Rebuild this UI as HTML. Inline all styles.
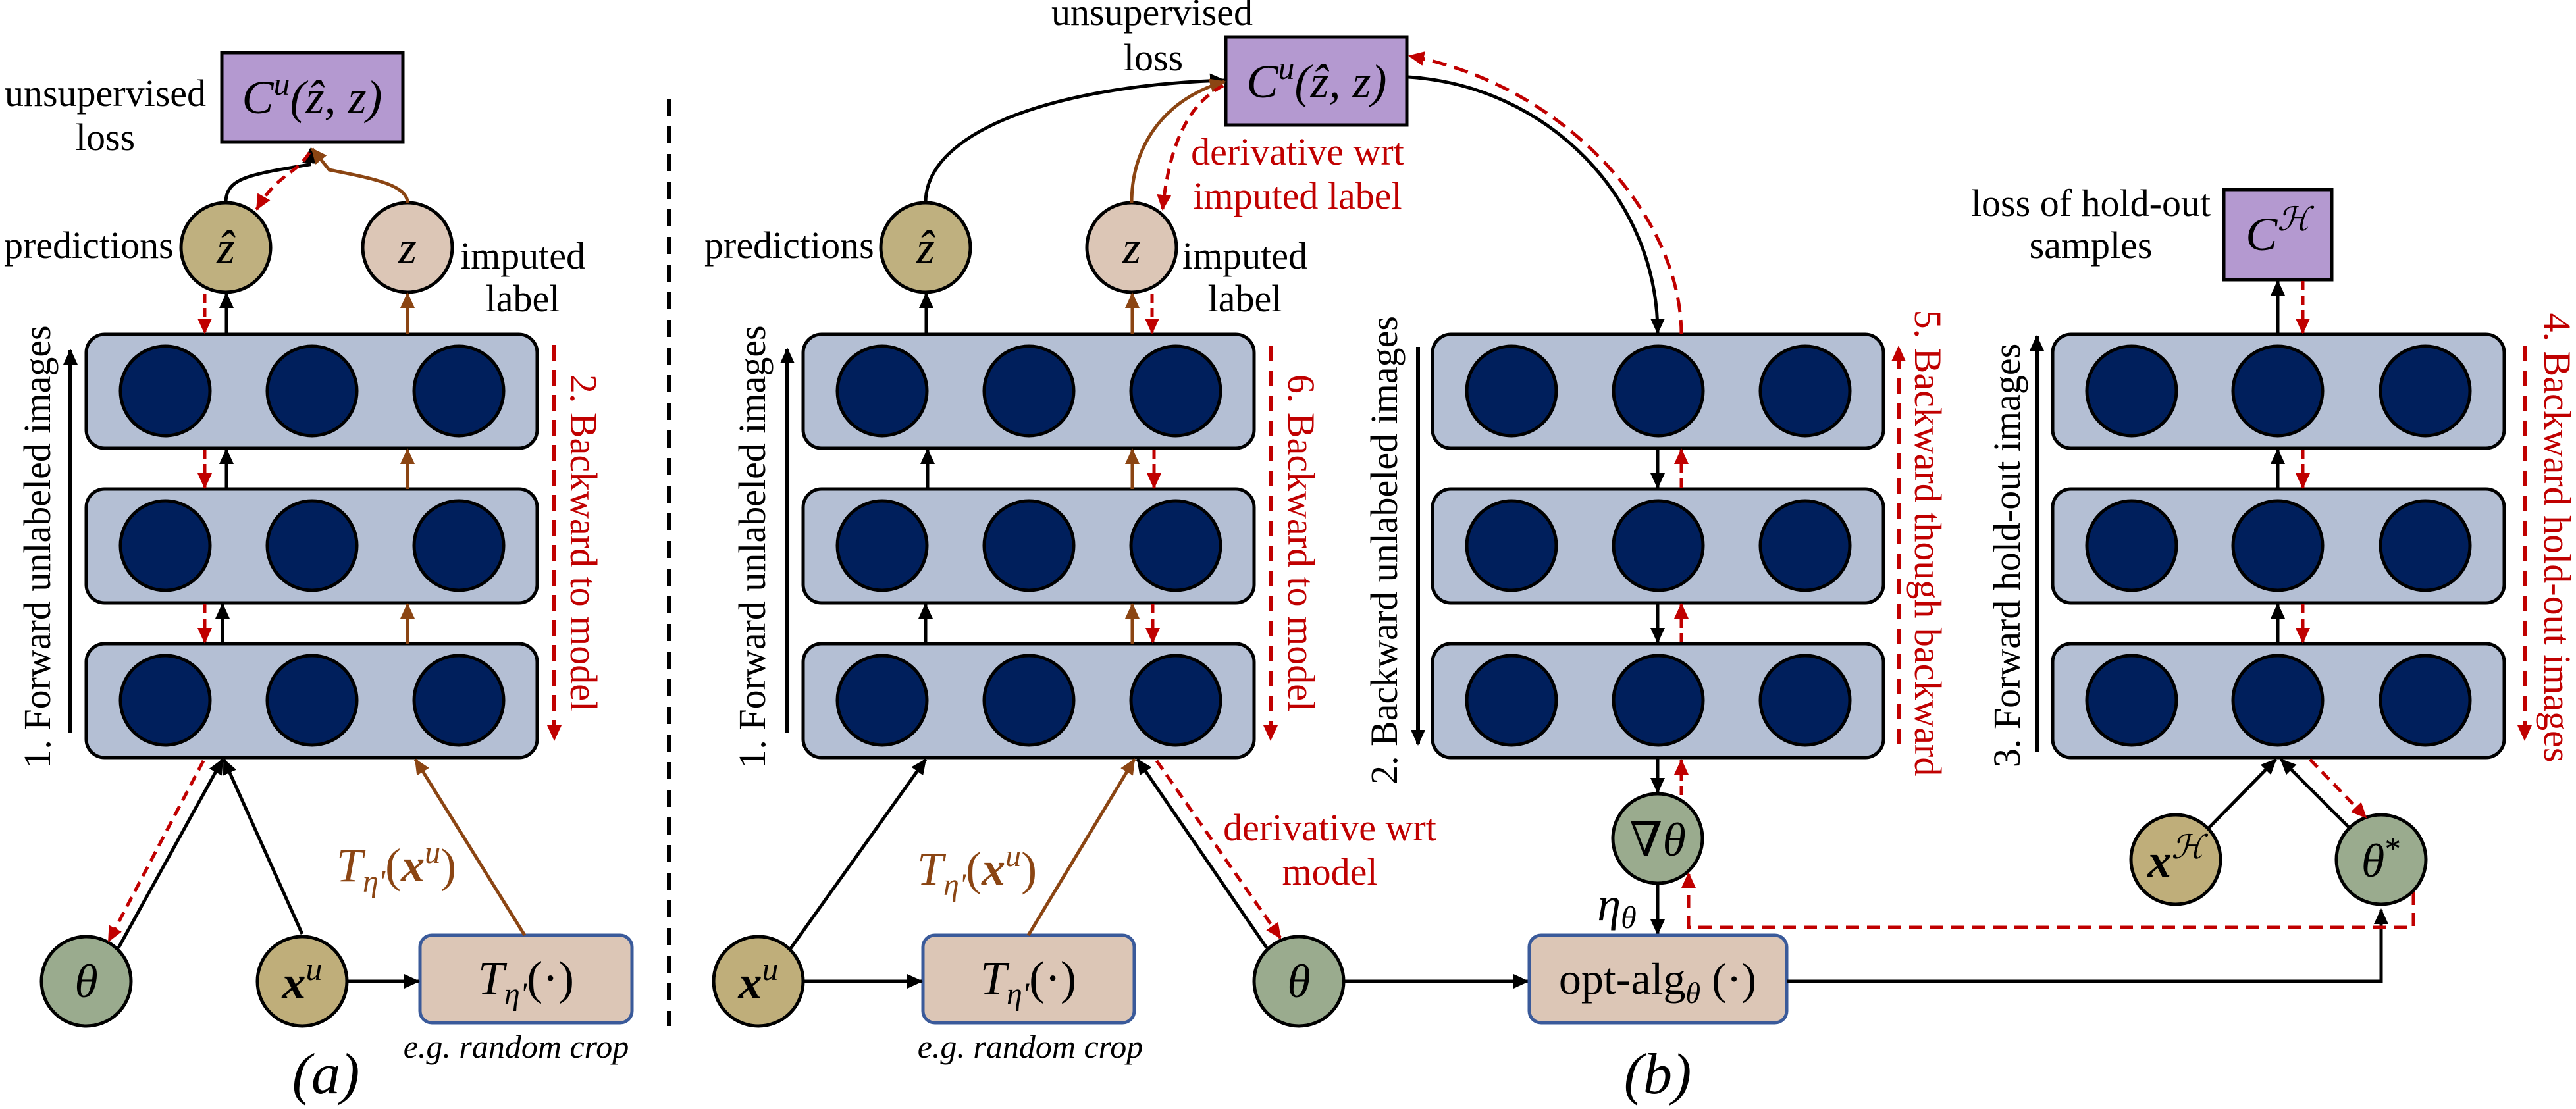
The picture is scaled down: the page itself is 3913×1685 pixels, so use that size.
<!DOCTYPE html>
<html><head><meta charset="utf-8"><style>
html,body{margin:0;padding:0;background:#fff}
svg{display:block;font-family:"Liberation Serif","DejaVu Serif",serif}
svg text{font-family:"Liberation Serif","DejaVu Serif",serif}
</style></head><body>
<svg width="3913" height="1685" viewBox="0 0 3913 1685" xmlns="http://www.w3.org/2000/svg" font-family="'Liberation Serif', 'DejaVu Serif', serif">
<defs>
<marker id="ak" markerWidth="24" markerHeight="22" refX="22" refY="11" orient="auto" markerUnits="userSpaceOnUse"><path d="M0,0 L24,11 L0,22 z" fill="#000"/></marker>
<marker id="abr" markerWidth="24" markerHeight="22" refX="22" refY="11" orient="auto" markerUnits="userSpaceOnUse"><path d="M0,0 L24,11 L0,22 z" fill="#8b4513"/></marker>
<marker id="ar" markerWidth="24" markerHeight="22" refX="22" refY="11" orient="auto" markerUnits="userSpaceOnUse"><path d="M0,0 L24,11 L0,22 z" fill="#c00000"/></marker>
<g id="layer">
 <rect x="0" y="0" width="685" height="173" rx="28" fill="#b4bfd4" stroke="#000" stroke-width="5"/>
 <circle cx="120" cy="86" r="68" fill="#001f5c" stroke="#000" stroke-width="5"/>
 <circle cx="343" cy="86" r="68" fill="#001f5c" stroke="#000" stroke-width="5"/>
 <circle cx="566" cy="86" r="68" fill="#001f5c" stroke="#000" stroke-width="5"/>
</g>
</defs>

<g stroke-linecap="butt" fill="none">
<!-- ===== Panel (a) ===== -->
<use href="#layer" x="131" y="508"/>
<use href="#layer" x="131" y="743"/>
<use href="#layer" x="131" y="978"/>
<rect x="337" y="80" width="275" height="136" fill="#b499d0" stroke="#000" stroke-width="5"/>
<circle cx="343" cy="376" r="68" fill="#bfb07f" stroke="#000" stroke-width="5"/>
<circle cx="619" cy="376" r="68" fill="#dcc6b6" stroke="#000" stroke-width="5"/>
<path d="M343,308 C343,270 380,265 470,250 L472,226" stroke="#000" stroke-width="5" marker-end="url(#ak)"/>
<path d="M619,308 C619,280 560,270 500,258 L474,226" stroke="#8b4513" stroke-width="5" marker-end="url(#abr)"/>
<path d="M470,232 C450,265 420,265 390,318" stroke="#c00000" stroke-width="5" stroke-dasharray="16 10" marker-end="url(#ar)"/>
<line x1="344" y1="508" x2="344" y2="446" stroke="#000" stroke-width="5" marker-end="url(#ak)"/>
<line x1="311" y1="446" x2="311" y2="506" stroke="#c00000" stroke-width="5" stroke-dasharray="14 8" marker-end="url(#ar)"/>
<line x1="619" y1="508" x2="619" y2="446" stroke="#8b4513" stroke-width="5" marker-end="url(#abr)"/>
<line x1="344" y1="743" x2="344" y2="683" stroke="#000" stroke-width="5" marker-end="url(#ak)"/>
<line x1="311" y1="683" x2="311" y2="741" stroke="#c00000" stroke-width="5" stroke-dasharray="14 8" marker-end="url(#ar)"/>
<line x1="619" y1="743" x2="619" y2="683" stroke="#8b4513" stroke-width="5" marker-end="url(#abr)"/>
<line x1="338" y1="978" x2="338" y2="918" stroke="#000" stroke-width="5" marker-end="url(#ak)"/>
<line x1="311" y1="918" x2="311" y2="976" stroke="#c00000" stroke-width="5" stroke-dasharray="14 8" marker-end="url(#ar)"/>
<line x1="619" y1="978" x2="619" y2="918" stroke="#8b4513" stroke-width="5" marker-end="url(#abr)"/>
<line x1="107" y1="1113" x2="107" y2="532" stroke="#000" stroke-width="6" marker-end="url(#ak)"/>
<line x1="842" y1="524" x2="842" y2="1124" stroke="#c00000" stroke-width="6" stroke-dasharray="24 14" marker-end="url(#ar)"/>
<circle cx="131" cy="1491" r="68" fill="#9aab8e" stroke="#000" stroke-width="5"/>
<circle cx="459" cy="1491" r="68" fill="#bfae7a" stroke="#000" stroke-width="5"/>
<rect x="638" y="1421" width="322" height="133" rx="18" fill="#dcc6b6" stroke="#3a5a9a" stroke-width="5"/>
<line x1="180" y1="1440" x2="338" y2="1154" stroke="#000" stroke-width="5" marker-end="url(#ak)"/>
<line x1="459" y1="1419" x2="340" y2="1154" stroke="#000" stroke-width="5" marker-end="url(#ak)"/>
<line x1="309" y1="1156" x2="165" y2="1430" stroke="#c00000" stroke-width="5" stroke-dasharray="16 10" marker-end="url(#ar)"/>
<line x1="797" y1="1421" x2="631" y2="1154" stroke="#8b4513" stroke-width="5" marker-end="url(#abr)"/>
<line x1="527" y1="1491" x2="636" y2="1491" stroke="#000" stroke-width="5" marker-end="url(#ak)"/>

<line x1="1016" y1="150" x2="1016" y2="1559" stroke="#000" stroke-width="6" stroke-dasharray="26 16"/>

<!-- ===== Panel (b) left ===== -->
<use href="#layer" x="1220" y="508"/>
<use href="#layer" x="1220" y="743"/>
<use href="#layer" x="1220" y="978"/>
<rect x="1862" y="56" width="275" height="134" fill="#b499d0" stroke="#000" stroke-width="5"/>
<circle cx="1406" cy="376" r="68" fill="#bfb07f" stroke="#000" stroke-width="5"/>
<circle cx="1719" cy="376" r="68" fill="#dcc6b6" stroke="#000" stroke-width="5"/>
<path d="M1406,308 C1406,200 1600,130 1860,122" stroke="#000" stroke-width="5" marker-end="url(#ak)"/>
<path d="M1719,308 C1719,220 1770,150 1860,124" stroke="#8b4513" stroke-width="5" marker-end="url(#abr)"/>
<path d="M1858,130 C1800,160 1775,230 1766,318" stroke="#c00000" stroke-width="5" stroke-dasharray="16 10" marker-end="url(#ar)"/>
<line x1="1407" y1="508" x2="1407" y2="446" stroke="#000" stroke-width="5" marker-end="url(#ak)"/>
<line x1="1720" y1="508" x2="1720" y2="446" stroke="#8b4513" stroke-width="5" marker-end="url(#abr)"/>
<line x1="1750" y1="446" x2="1750" y2="506" stroke="#c00000" stroke-width="5" stroke-dasharray="14 8" marker-end="url(#ar)"/>
<line x1="1409" y1="743" x2="1409" y2="683" stroke="#000" stroke-width="5" marker-end="url(#ak)"/>
<line x1="1720" y1="743" x2="1720" y2="683" stroke="#8b4513" stroke-width="5" marker-end="url(#abr)"/>
<line x1="1753" y1="683" x2="1753" y2="741" stroke="#c00000" stroke-width="5" stroke-dasharray="14 8" marker-end="url(#ar)"/>
<line x1="1406" y1="978" x2="1406" y2="918" stroke="#000" stroke-width="5" marker-end="url(#ak)"/>
<line x1="1720" y1="978" x2="1720" y2="918" stroke="#8b4513" stroke-width="5" marker-end="url(#abr)"/>
<line x1="1751" y1="918" x2="1751" y2="976" stroke="#c00000" stroke-width="5" stroke-dasharray="14 8" marker-end="url(#ar)"/>
<line x1="1196" y1="1113" x2="1196" y2="530" stroke="#000" stroke-width="6" marker-end="url(#ak)"/>
<line x1="1930" y1="525" x2="1930" y2="1124" stroke="#c00000" stroke-width="6" stroke-dasharray="24 14" marker-end="url(#ar)"/>
<circle cx="1152" cy="1491" r="68" fill="#bfae7a" stroke="#000" stroke-width="5"/>
<rect x="1402" y="1421" width="321" height="133" rx="18" fill="#dcc6b6" stroke="#3a5a9a" stroke-width="5"/>
<circle cx="1973" cy="1491" r="68" fill="#9aab8e" stroke="#000" stroke-width="5"/>
<line x1="1220" y1="1491" x2="1400" y2="1491" stroke="#000" stroke-width="5" marker-end="url(#ak)"/>
<line x1="1201" y1="1441" x2="1406" y2="1154" stroke="#000" stroke-width="5" marker-end="url(#ak)"/>
<line x1="1562" y1="1421" x2="1723" y2="1154" stroke="#8b4513" stroke-width="5" marker-end="url(#abr)"/>
<line x1="1924" y1="1440" x2="1728" y2="1154" stroke="#000" stroke-width="5" marker-end="url(#ak)"/>
<line x1="1757" y1="1156" x2="1945" y2="1425" stroke="#c00000" stroke-width="5" stroke-dasharray="16 10" marker-end="url(#ar)"/>
<line x1="2041" y1="1491" x2="2321" y2="1491" stroke="#000" stroke-width="5" marker-end="url(#ak)"/>

<!-- ===== Panel (b) middle ===== -->
<use href="#layer" x="2176" y="508"/>
<use href="#layer" x="2176" y="743"/>
<use href="#layer" x="2176" y="978"/>
<path d="M2139,117 C2350,130 2518,300 2518,506" stroke="#000" stroke-width="5" marker-end="url(#ak)"/>
<path d="M2554,508 C2554,330 2380,130 2141,85" stroke="#c00000" stroke-width="5" stroke-dasharray="22 12" marker-end="url(#ar)"/>
<line x1="2518" y1="681" x2="2518" y2="741" stroke="#000" stroke-width="5" marker-end="url(#ak)"/>
<line x1="2554" y1="741" x2="2554" y2="683" stroke="#c00000" stroke-width="5" stroke-dasharray="14 8" marker-end="url(#ar)"/>
<line x1="2518" y1="916" x2="2518" y2="976" stroke="#000" stroke-width="5" marker-end="url(#ak)"/>
<line x1="2554" y1="976" x2="2554" y2="918" stroke="#c00000" stroke-width="5" stroke-dasharray="14 8" marker-end="url(#ar)"/>
<line x1="2518" y1="1151" x2="2518" y2="1204" stroke="#000" stroke-width="5" marker-end="url(#ak)"/>
<line x1="2554" y1="1208" x2="2554" y2="1155" stroke="#c00000" stroke-width="5" stroke-dasharray="14 8" marker-end="url(#ar)"/>
<line x1="2154" y1="527" x2="2154" y2="1131" stroke="#000" stroke-width="6" marker-end="url(#ak)"/>
<line x1="2884" y1="1131" x2="2884" y2="527" stroke="#c00000" stroke-width="6" stroke-dasharray="24 14" marker-end="url(#ar)"/>
<circle cx="2518" cy="1274" r="68" fill="#9aab8e" stroke="#000" stroke-width="5"/>
<line x1="2518" y1="1342" x2="2518" y2="1419" stroke="#000" stroke-width="5" marker-end="url(#ak)"/>
<rect x="2323" y="1421" width="391" height="133" rx="18" fill="#dcc6b6" stroke="#3a5a9a" stroke-width="5"/>
<polyline points="2714,1491 3617,1491 3617,1382" stroke="#000" stroke-width="5" marker-end="url(#ak)"/>
<polyline points="3666,1355 3666,1409 2565,1409 2565,1327" stroke="#c00000" stroke-width="5" stroke-dasharray="20 12" marker-end="url(#ar)"/>

<!-- ===== Panel (b) right ===== -->
<g transform="translate(3118,508)"><rect x="0" y="0" width="686" height="173" rx="28" fill="#b4bfd4" stroke="#000" stroke-width="5"/><circle cx="120" cy="86" r="68" fill="#001f5c" stroke="#000" stroke-width="5"/><circle cx="342" cy="86" r="68" fill="#001f5c" stroke="#000" stroke-width="5"/><circle cx="566" cy="86" r="68" fill="#001f5c" stroke="#000" stroke-width="5"/></g>
<g transform="translate(3118,743)"><rect x="0" y="0" width="686" height="173" rx="28" fill="#b4bfd4" stroke="#000" stroke-width="5"/><circle cx="120" cy="86" r="68" fill="#001f5c" stroke="#000" stroke-width="5"/><circle cx="342" cy="86" r="68" fill="#001f5c" stroke="#000" stroke-width="5"/><circle cx="566" cy="86" r="68" fill="#001f5c" stroke="#000" stroke-width="5"/></g>
<g transform="translate(3118,978)"><rect x="0" y="0" width="686" height="173" rx="28" fill="#b4bfd4" stroke="#000" stroke-width="5"/><circle cx="120" cy="86" r="68" fill="#001f5c" stroke="#000" stroke-width="5"/><circle cx="342" cy="86" r="68" fill="#001f5c" stroke="#000" stroke-width="5"/><circle cx="566" cy="86" r="68" fill="#001f5c" stroke="#000" stroke-width="5"/></g>
<rect x="3378" y="288" width="164" height="137" fill="#b499d0" stroke="#000" stroke-width="5"/>
<line x1="3460" y1="508" x2="3460" y2="427" stroke="#000" stroke-width="5" marker-end="url(#ak)"/>
<line x1="3498" y1="427" x2="3498" y2="506" stroke="#c00000" stroke-width="5" stroke-dasharray="14 8" marker-end="url(#ar)"/>
<line x1="3460" y1="743" x2="3460" y2="683" stroke="#000" stroke-width="5" marker-end="url(#ak)"/>
<line x1="3498" y1="683" x2="3498" y2="741" stroke="#c00000" stroke-width="5" stroke-dasharray="14 8" marker-end="url(#ar)"/>
<line x1="3460" y1="978" x2="3460" y2="918" stroke="#000" stroke-width="5" marker-end="url(#ak)"/>
<line x1="3498" y1="918" x2="3498" y2="976" stroke="#c00000" stroke-width="5" stroke-dasharray="14 8" marker-end="url(#ar)"/>
<line x1="3094" y1="1142" x2="3094" y2="511" stroke="#000" stroke-width="6" marker-end="url(#ak)"/>
<line x1="3835" y1="525" x2="3835" y2="1124" stroke="#c00000" stroke-width="6" stroke-dasharray="24 14" marker-end="url(#ar)"/>
<circle cx="3305" cy="1306" r="68" fill="#bfae7a" stroke="#000" stroke-width="5"/>
<circle cx="3617" cy="1306" r="68" fill="#9aab8e" stroke="#000" stroke-width="5"/>
<line x1="3355" y1="1258" x2="3457" y2="1154" stroke="#000" stroke-width="5" marker-end="url(#ak)"/>
<line x1="3571" y1="1260" x2="3465" y2="1154" stroke="#000" stroke-width="5" marker-end="url(#ak)"/>
<line x1="3509" y1="1154" x2="3594" y2="1242" stroke="#c00000" stroke-width="5" stroke-dasharray="16 10" marker-end="url(#ar)"/>
</g>

<!-- ===== TEXT ===== -->
<g font-size="58" fill="#000" font-family="'Liberation Serif', serif">
<text x="160" y="161" text-anchor="middle">unsupervised</text>
<text x="160" y="228" text-anchor="middle">loss</text>
<text x="6" y="392">predictions</text>
<text x="794" y="408" text-anchor="middle">imputed</text>
<text x="794" y="473" text-anchor="middle">label</text>
<text x="1750" y="38" text-anchor="middle">unsupervised</text>
<text x="1752" y="107" text-anchor="middle">loss</text>
<text x="1070" y="392">predictions</text>
<text x="1891" y="408" text-anchor="middle">imputed</text>
<text x="1891" y="473" text-anchor="middle">label</text>
<text x="3176" y="328" text-anchor="middle">loss of hold-out</text>
<text x="3176" y="392" text-anchor="middle">samples</text>
</g>
<g font-size="58" fill="#c00000" font-family="'Liberation Serif', serif">
<text x="1971" y="250" text-anchor="middle">derivative wrt</text>
<text x="1971" y="317" text-anchor="middle">imputed label</text>
<text x="2020" y="1277" text-anchor="middle">derivative wrt</text>
<text x="2020" y="1344" text-anchor="middle">model</text>
</g>
<g font-size="58" font-family="'Liberation Serif', serif">
<text transform="translate(76,831) rotate(-90)" text-anchor="middle" fill="#000">1. Forward unlabeled images</text>
<text transform="translate(867,825) rotate(90)" text-anchor="middle" fill="#c00000">2. Backward to model</text>
<text transform="translate(1162,831) rotate(-90)" text-anchor="middle" fill="#000">1. Forward unlabeled images</text>
<text transform="translate(1957,825) rotate(90)" text-anchor="middle" fill="#c00000">6. Backward to model</text>
<text transform="translate(2122,836) rotate(-90)" text-anchor="middle" fill="#000">2. Backward unlabeled images</text>
<text transform="translate(2909,825) rotate(90)" text-anchor="middle" fill="#c00000">5. Backward though backward</text>
<text transform="translate(3068,844) rotate(-90)" text-anchor="middle" fill="#000">3. Forward hold-out images</text>
<text transform="translate(3865,817) rotate(90)" text-anchor="middle" fill="#c00000">4. Backward hold-out images</text>
</g>
<g font-size="72" font-style="italic" fill="#000" font-family="'Liberation Serif', serif">
<text x="474" y="172" text-anchor="middle">C<tspan font-size="50" dy="-28">u</tspan><tspan dy="28">(ẑ, z)</tspan></text>
<text x="2000" y="148" text-anchor="middle">C<tspan font-size="50" dy="-28">u</tspan><tspan dy="28">(ẑ, z)</tspan></text>
<text x="3460" y="380" text-anchor="middle">C<tspan font-size="50" dy="-30">ℋ</tspan></text>
<text x="343" y="400" text-anchor="middle">ẑ</text>
<text x="619" y="400" text-anchor="middle">z</text>
<text x="1406" y="400" text-anchor="middle">ẑ</text>
<text x="1719" y="400" text-anchor="middle">z</text>
<text x="131" y="1515" text-anchor="middle">θ</text>
<text x="1973" y="1515" text-anchor="middle">θ</text>
<text x="459" y="1517" text-anchor="middle" font-weight="bold">x<tspan font-size="50" dy="-28" font-weight="normal">u</tspan></text>
<text x="1152" y="1517" text-anchor="middle" font-weight="bold">x<tspan font-size="50" dy="-28" font-weight="normal">u</tspan></text>
<text x="3305" y="1332" text-anchor="middle" font-weight="bold">x<tspan font-size="50" dy="-28" font-weight="normal">ℋ</tspan></text>
<text x="3617" y="1332" text-anchor="middle">θ<tspan font-size="50" dy="-26" font-style="normal">*</tspan></text>
<text x="2518" y="1300" text-anchor="middle"><tspan font-style="normal">∇</tspan>θ</text>
<text x="2456" y="1398" text-anchor="middle">η<tspan font-size="48" dy="12">θ</tspan></text>
<text x="799" y="1510" text-anchor="middle">T<tspan font-size="48" dy="16">η'</tspan><tspan dy="-16" font-style="normal">(·)</tspan></text>
<text x="1562" y="1510" text-anchor="middle">T<tspan font-size="48" dy="16">η'</tspan><tspan dy="-16" font-style="normal">(·)</tspan></text>
<text x="602" y="1339" text-anchor="middle" fill="#8b4513">T<tspan font-size="48" dy="16">η'</tspan><tspan dy="-16" font-style="normal">(</tspan><tspan font-weight="bold">x</tspan><tspan font-size="48" dy="-28">u</tspan><tspan dy="28" font-style="normal">)</tspan></text>
<text x="1484" y="1344" text-anchor="middle" fill="#8b4513">T<tspan font-size="48" dy="16">η'</tspan><tspan dy="-16" font-style="normal">(</tspan><tspan font-weight="bold">x</tspan><tspan font-size="48" dy="-28">u</tspan><tspan dy="28" font-style="normal">)</tspan></text>
</g>
<text x="2518" y="1510" text-anchor="middle" font-size="68" font-family="'Liberation Serif', serif">opt-alg<tspan font-size="46" dy="14" font-style="italic">θ</tspan><tspan dy="-14"> (·)</tspan></text>
<g font-size="50" font-style="italic" fill="#000" font-family="'Liberation Serif', serif">
<text x="784" y="1607" text-anchor="middle">e.g. random crop</text>
<text x="1565" y="1607" text-anchor="middle">e.g. random crop</text>
</g>
<g font-size="88" font-style="italic" fill="#000" font-family="'Liberation Serif', serif">
<text x="495" y="1661" text-anchor="middle">(a)</text>
<text x="2518" y="1661" text-anchor="middle">(b)</text>
</g>
</svg>
</body></html>
